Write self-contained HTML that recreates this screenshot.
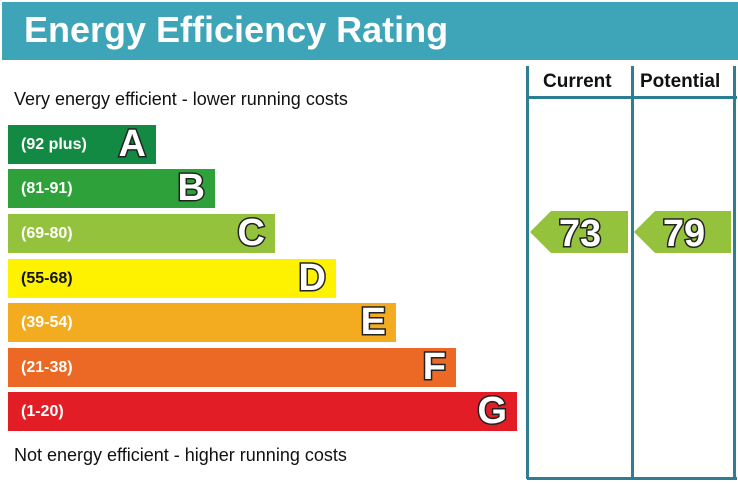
<!DOCTYPE html>
<html><head><style>
body{margin:0;width:738px;height:483px;background:#fff;position:relative;overflow:hidden;font-family:"Liberation Sans",sans-serif}
.hd{position:absolute;left:2px;top:2px;width:736px;height:58px;background:#3ea5b9}
.hd span{position:absolute;left:22px;top:7px;color:#fff;font-weight:bold;font-size:36px}
.v{position:absolute;top:66px;width:3px;height:413px;background:#2d7e93}
.h{position:absolute;left:527px;width:210px;height:3px;background:#2d7e93}
.t{position:absolute;font-size:18px;color:#111}
.b{position:absolute;left:8px;height:39px}
.b span{position:absolute;left:13px;top:11px;font-size:16px;font-weight:bold;color:#fff}
.b i{position:absolute;right:10px;top:0;font-style:normal;font-weight:bold;font-size:38px;line-height:39px;color:#fff;-webkit-text-stroke:3px #222;paint-order:stroke fill}
.ch{position:absolute;top:71px;font-weight:bold;font-size:19px;color:#111}
</style></head><body>
<div class="hd"><span>Energy Efficiency Rating</span></div>
<div class="v" style="left:526px"></div><div class="v" style="left:631px"></div><div class="v" style="left:733px"></div>
<div class="h" style="top:96px"></div><div class="h" style="top:477px"></div>
<div class="ch" style="left:543px">Current</div><div class="ch" style="left:640px">Potential</div>
<div class="t" style="left:14px;top:89px">Very energy efficient - lower running costs</div>
<div class="t" style="left:14px;top:445px">Not energy efficient - higher running costs</div>
<div class="b" style="top:125px;width:148px;background:#138a43"><span>(92 plus)</span><i>A</i></div>
<div class="b" style="top:169px;width:207px;background:#2ea13a"><span>(81-91)</span><i>B</i></div>
<div class="b" style="top:214px;width:267px;background:#95c23d"><span>(69-80)</span><i>C</i></div>
<div class="b" style="top:259px;width:328px;background:#fef200"><span style="color:#111">(55-68)</span><i>D</i></div>
<div class="b" style="top:303px;width:388px;background:#f3ac1f"><span>(39-54)</span><i>E</i></div>
<div class="b" style="top:348px;width:448px;background:#eb6825"><span>(21-38)</span><i>F</i></div>
<div class="b" style="top:392px;width:509px;background:#e31d25"><span>(1-20)</span><i>G</i></div>
<svg width="738" height="483" style="position:absolute;left:0;top:0">
<polygon points="530,232 551,211 628,211 628,253 551,253" fill="#95c23d"/>
<polygon points="634,232 655,211 731,211 731,253 655,253" fill="#95c23d"/>
<g font-family="Liberation Sans" font-weight="bold" font-size="38" fill="#fff" stroke="#222" stroke-width="3" paint-order="stroke fill" text-anchor="middle">
<text x="580" y="246">73</text><text x="684" y="246">79</text></g>
</svg>
</body></html>
